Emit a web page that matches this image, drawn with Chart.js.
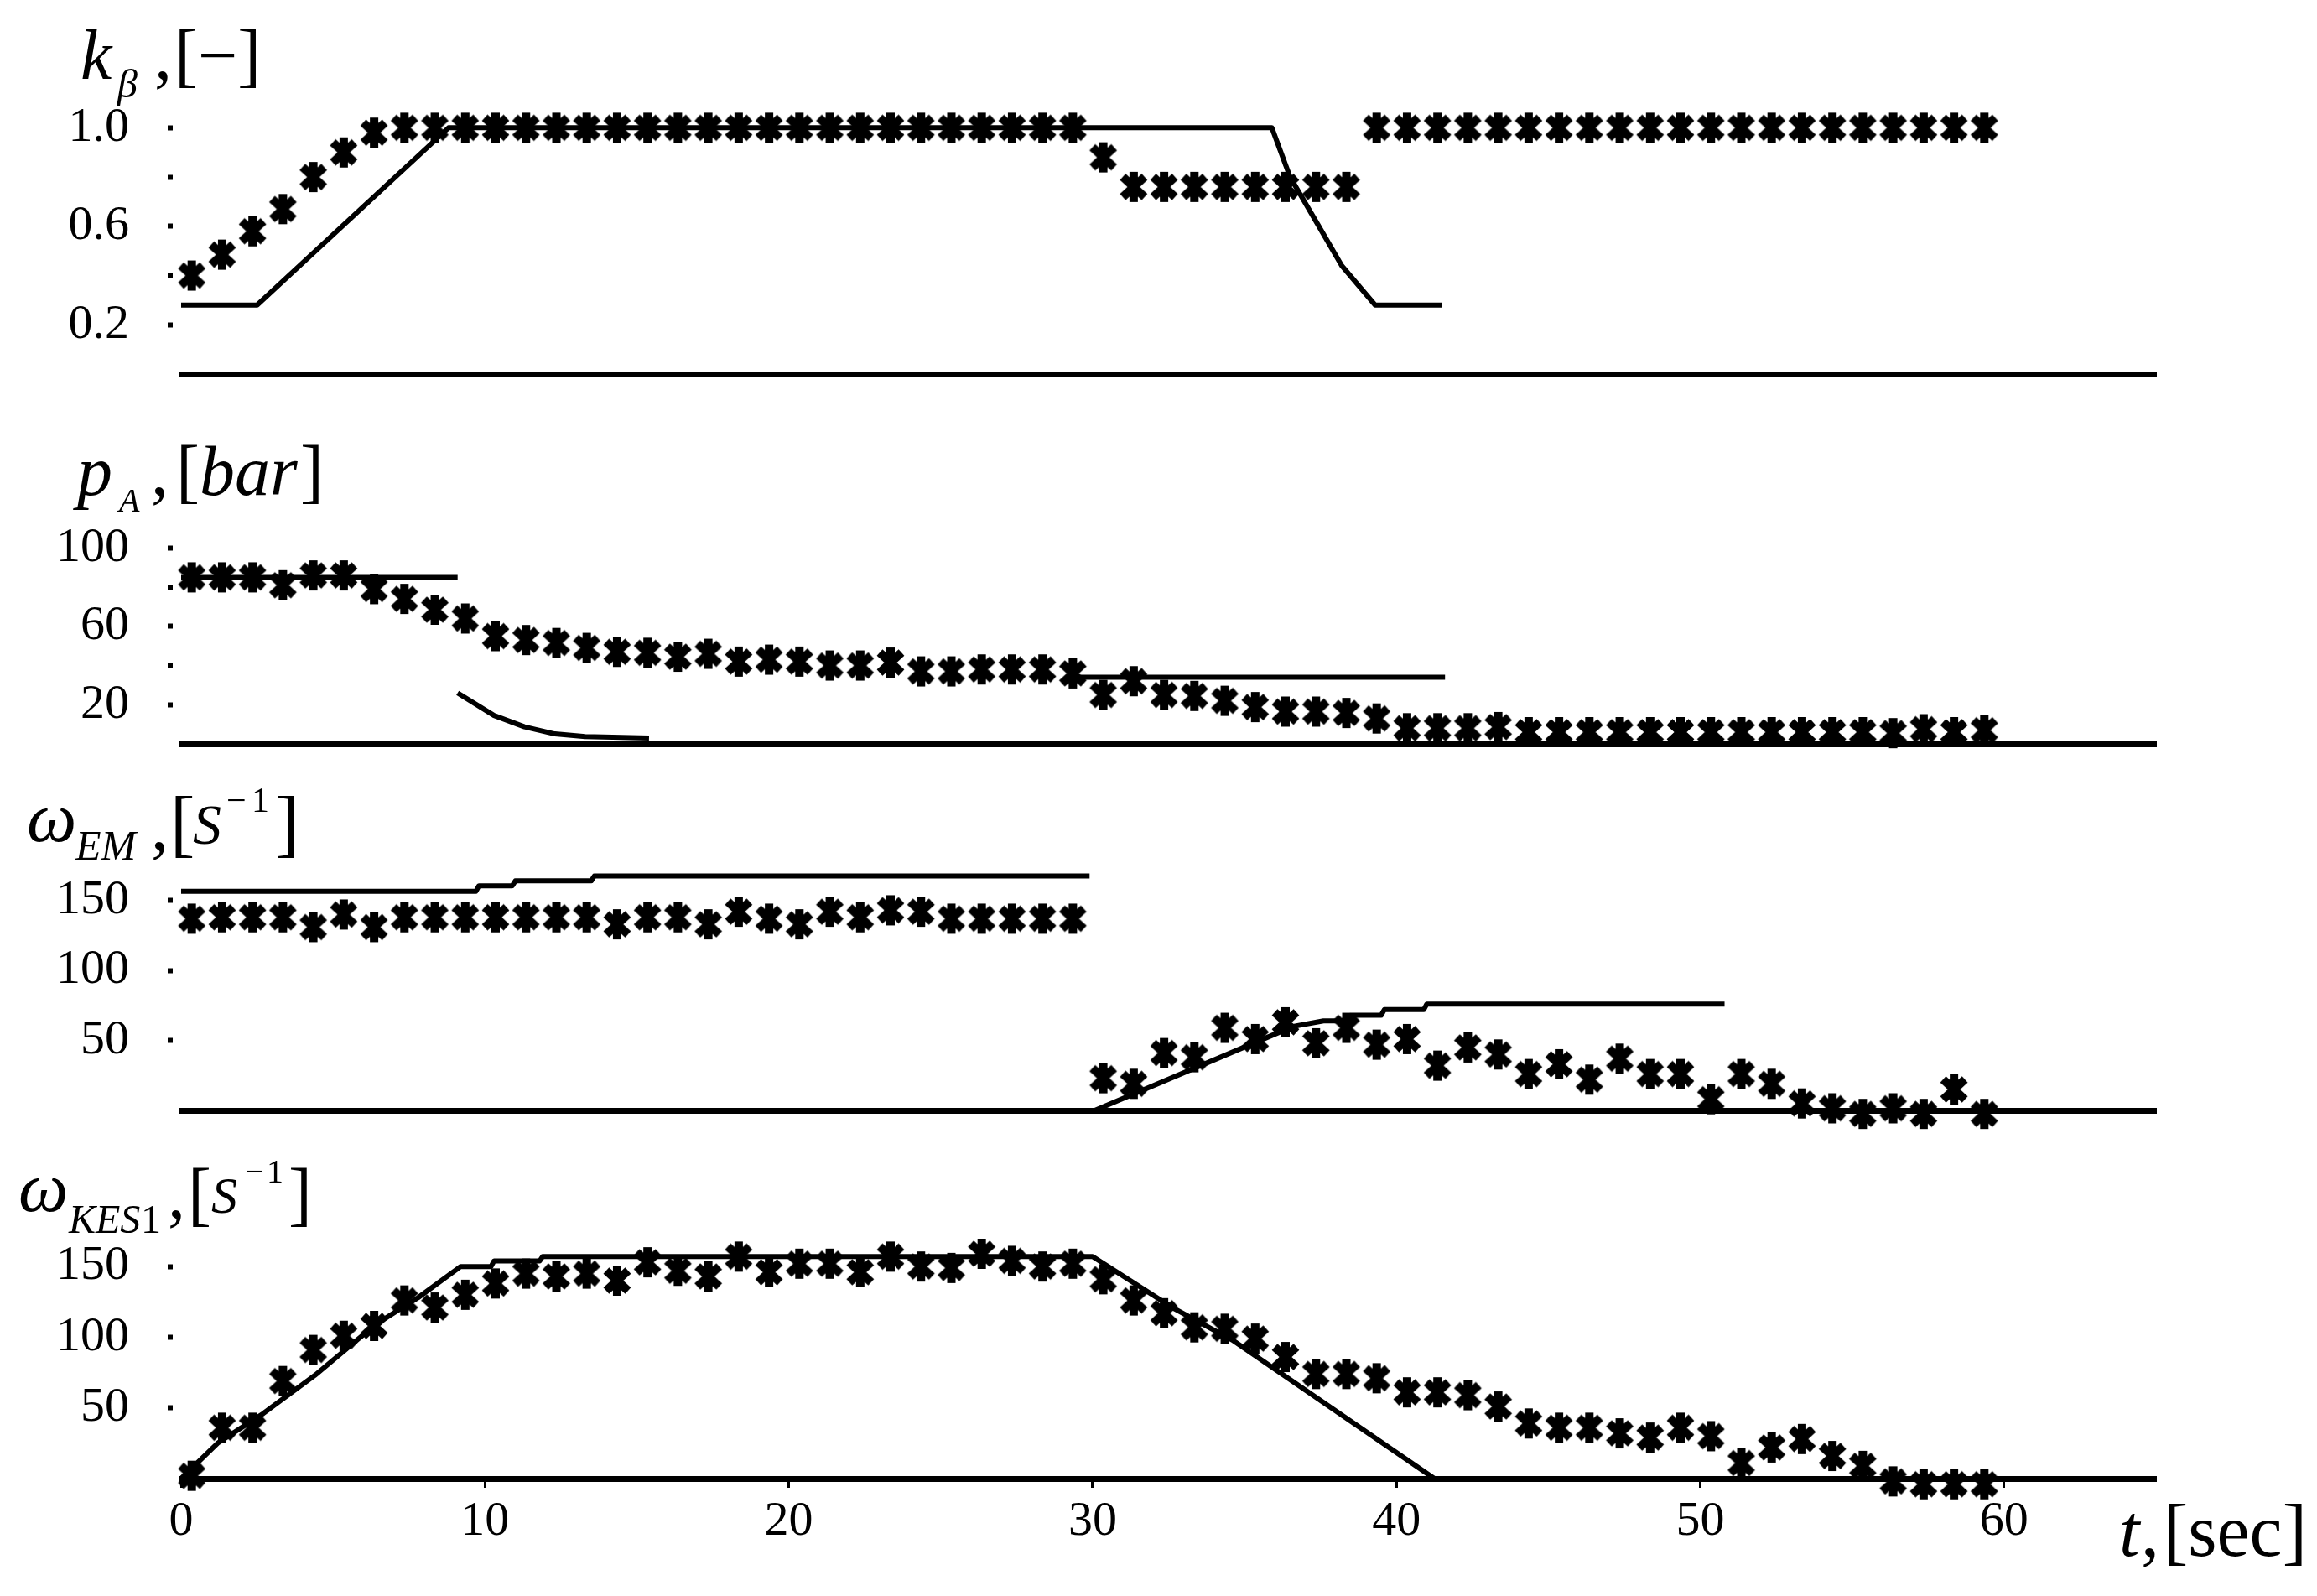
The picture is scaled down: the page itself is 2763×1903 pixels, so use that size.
<!DOCTYPE html>
<html><head><meta charset="utf-8">
<script src="https://cdn.jsdelivr.net/npm/chart.js@4.4.1/dist/chart.umd.min.js"></script>
<style>
html,body{margin:0;padding:0;background:#fff;}
#wrap{position:relative;width:2763px;height:1903px;background:#fff;overflow:hidden;}
canvas{position:absolute;left:0;}
</style></head><body>
<div id="wrap">
<canvas id="c1" width="2763" height="480" style="top:0px;width:2763px;height:480px"></canvas>
<canvas id="c2" width="2763" height="441" style="top:480px;width:2763px;height:441px"></canvas>
<canvas id="c3" width="2763" height="437" style="top:921px;width:2763px;height:437px"></canvas>
<canvas id="c4" width="2763" height="545" style="top:1358px;width:2763px;height:545px"></canvas>
</div>
<script>
// ---------------- DATA ----------------
// time axis ticks (sec)
const tTicks = [0, 10, 20, 30, 40, 50, 60];
const tTickLabels = ['0', '10', '20', '30', '40', '50', '60'];

// sampling times of the asterisk (measured) series
const markerTimes = [0.35,1.35,2.35,3.35,4.35,5.35,6.35,7.35,8.35,9.35,
  10.35,11.35,12.35,13.35,14.35,15.35,16.35,17.35,18.35,19.35,
  20.35,21.35,22.35,23.35,24.35,25.35,26.35,27.35,28.35,29.35,
  30.35,31.35,32.35,33.35,34.35,35.35,36.35,37.35,38.35,39.35,
  40.35,41.35,42.35,43.35,44.35,45.35,46.35,47.35,48.35,49.35,
  50.35,51.35,52.35,53.35,54.35,55.35,56.35,57.35,58.35,59.35];

// panel 1: k_beta [-]
const kbetaTicks = [0.2, 0.4, 0.6, 0.8, 1.0];
const kbetaTickLabels = ['0.2', '', '0.6', '', '1.0'];
const kbetaMarks = [0.40,0.485,0.58,0.67,0.80,0.90,0.98,
  1,1,1,1,1,1,1,1,1,1,1,1,1,1,1,1,1,1,1,1,1,1,1,
  0.88,
  0.76,0.76,0.76,0.76,0.76,0.76,0.76,0.76,
  1,1,1,1,1,1,1,1,1,1,1,1,1,1,1,1,1,1,1,1,1];
const kbetaLineT = [0, 2.5, 8.8, 35.9, 36.5, 37.4, 38.2, 39.3, 41.5];
const kbetaLineV = [0.28, 0.28, 1.0, 1.0, 0.80, 0.61, 0.44, 0.28, 0.28];

// panel 2: p_A [bar]
const pressTicks = [20, 40, 60, 80, 100];
const pressTickLabels = ['20', '', '60', '', '100'];
const pressMarks = [85,85,85,81,86,86,79,74,68.5,64,
  55,53,51.5,49,47,46.5,44.5,46,42,43,
  42,40,40,41.5,37,37,38,38,38,36,
  25,32,25,24.5,22,18.8,16.5,16.5,15.8,13,
  8,8,8,8.6,6,6,6,6,6,6,
  6,6,6,6,6,6,5.5,7.5,6,7];
const pressLine1T = [0, 9.1];
const pressLine1V = [85, 85];
const pressLine2T = [9.1, 10.3, 11.3, 12.3, 13.3, 15.4];
const pressLine2V = [26, 14.5, 8.7, 5.1, 3.7, 3];
const pressLine3T = [29.5, 41.6];
const pressLine3V = [34, 34];

// panel 3: omega_EM [s^-1]
const wTicks = [50, 100, 150];
const wTickLabels = ['50', '100', '150'];
const wEmMarks = [137,138,138,138,131,140,131,138,138,138,
  138,138,138,138,133,138,138,133,142,137,
  133,142,138,143,142,137,137,137,137,137,
  23,19,41,38,59,51,63,48,59,47,
  51,32,45,40,26,33,22,37,26,26,
  8,26,19,5,1.5,-2.5,1.5,-2.5,15,-2.5];
const wEmLine1T = [0, 9.7, 9.8, 10.9, 11.0, 13.5, 13.6, 29.9];
const wEmLine1V = [156.5, 156.5, 160.5, 160.5, 164, 164, 167.5, 167.5];
const wEmLine2T = [30.07, 36.6, 37.6, 38.4, 38.5, 39.5, 39.6, 40.9, 41.0, 50.8];
const wEmLine2V = [0, 60, 64, 64, 68, 68, 72, 72, 76, 76];

// panel 4: omega_KES1 [s^-1]
const wKesMarks = [2,36,36,69,91,101,108,126,121,130,
  138,145,143,145,140,153,147,143,157,146,
  152,152,146,157,150,149,159,154,150,152,
  141,126,117,107,106,99,86,74,74,71,
  61,61,59,51,39,36,36,32,29,36,
  30,11,22,28,16,9,-2,-4,-4,-4];
const wKesLineT = [0, 1.2, 2.7, 4.4, 6.4, 7.8, 9.2, 10.2, 10.3, 11.8, 11.9, 30, 32.7, 34.6, 41.25];
const wKesLineV = [0, 25, 46, 73, 109, 128, 150, 150, 154, 154, 157, 157, 120, 98, 0];

// axis label texts
const label1 = ['k', 'β', ',', '[−]'];
const label2 = ['p', 'A', ',', '[', 'bar', ']'];
const label3 = ['ω', 'EM', ',', '[', 'S', '−', '1', ']'];
const label4 = ['ω', 'KES', '1', ',', '[', 'S', '−', '1', ']'];
const labelT = ['t', ',', '[sec]'];

// ---------------- RENDER ----------------
const FAM = '"Liberation Serif", "Times New Roman", "DejaVu Serif", serif';

// bold six-armed asterisk used as the point style
const asterisk = (function () {
  const c = document.createElement('canvas');
  c.width = 36; c.height = 38;
  const g = c.getContext('2d');
  g.strokeStyle = '#000';
  g.lineWidth = 10;
  g.lineCap = 'butt';
  g.beginPath();
  g.moveTo(18, 1); g.lineTo(18, 37);
  g.moveTo(5, 7); g.lineTo(31, 31);
  g.moveTo(31, 7); g.lineTo(5, 31);
  g.stroke();
  return c;
})();

function pts(ts, vs) { return ts.map((t, i) => ({x: t, y: vs[i]})); }

function markerSet(vals) {
  return {data: pts(markerTimes, vals), showLine: false, pointStyle: asterisk,
    pointRadius: 18, pointHoverRadius: 18, pointBorderWidth: 0,
    borderColor: '#000', backgroundColor: '#000', clip: false};
}
function lineSet(ts, vs) {
  return {data: pts(ts, vs), showLine: true, borderColor: '#000', borderWidth: 6,
    pointRadius: 0, pointHoverRadius: 0, tension: 0, fill: false, clip: false,
    borderJoinStyle: 'round'};
}

function textPlugin(runs) {
  return {
    id: 'axisText',
    afterDraw(chart) {
      const ctx = chart.ctx;
      runs.forEach(r => {
        ctx.save();
        ctx.font = r[1] + ' ' + FAM;
        ctx.fillStyle = '#000';
        ctx.textAlign = 'left';
        ctx.textBaseline = 'alphabetic';
        ctx.fillText(r[0], r[2], r[3]);
        ctx.restore();
      });
    }
  };
}

function makePanel(id, cfg) {
  return new Chart(document.getElementById(id), {
    type: 'scatter',
    data: {datasets: cfg.datasets},
    options: {
      responsive: false, animation: false, devicePixelRatio: 1,
      events: [],
      layout: {padding: {left: 0, right: 192, top: cfg.padTop, bottom: 0}},
      plugins: {legend: {display: false}, tooltip: {enabled: false}},
      scales: {
        x: {
          type: 'linear', min: 0, max: 65, position: 'bottom',
          afterFit(s) { s.height = cfg.xH; s.paddingLeft = 0; s.paddingRight = 0; },
          afterBuildTicks(s) { s.ticks = tTicks.map(v => ({value: v})); },
          border: {display: true, width: 7, color: '#000'},
          grid: {display: cfg.showX, drawOnChartArea: false, drawTicks: true,
                 tickLength: 11, tickWidth: 3, tickColor: '#000'},
          ticks: {display: cfg.showX, color: '#000', padding: 6, maxRotation: 0, autoSkip: false,
                  font: {family: FAM, size: 58},
                  callback: (v, i) => tTickLabels[i]}
        },
        y: {
          type: 'linear', min: 0, max: cfg.ymax,
          afterFit(s) { s.width = 216; s.paddingTop = 0; s.paddingBottom = 0; },
          afterBuildTicks(s) { s.ticks = cfg.yTicks.map(v => ({value: v})); },
          border: {display: false},
          grid: {display: true, drawOnChartArea: false, drawTicks: true, tickLength: 16,
                 tickWidth: 6, tickColor: '#000', tickBorderDash: [6, 100]},
          ticks: {color: '#000', padding: 46, autoSkip: false,
                  font: {family: FAM, size: 58},
                  callback: (v, i) => cfg.yLabels[i]}
        }
      }
    },
    plugins: [textPlugin(cfg.text)]
  });
}

makePanel('c1', {
  padTop: 123, xH: 34, ymax: 1.1, yTicks: kbetaTicks, yLabels: kbetaTickLabels, showX: false,
  datasets: [markerSet(kbetaMarks), lineSet(kbetaLineT, kbetaLineV)],
  text: [[label1[0], 'italic 84px', 96, 94], [label1[1], 'italic 48px', 140, 116],
         [label1[2], '84px', 184, 94], [label1[3], '84px', 208, 94]]
});

makePanel('c2', {
  padTop: 150, xH: 34, ymax: 110, yTicks: pressTicks, yLabels: pressTickLabels, showX: false,
  datasets: [markerSet(pressMarks), lineSet(pressLine1T, pressLine1V),
             lineSet(pressLine2T, pressLine2V), lineSet(pressLine3T, pressLine3V)],
  text: [[label2[0], 'italic 84px', 92, 110], [label2[1], 'italic 40px', 142, 130],
         [label2[2], '84px', 180, 110], [label2[3], '84px', 210, 110],
         [label2[4], 'italic 84px', 238, 110], [label2[5], '84px', 358, 110]]
});

makePanel('c3', {
  padTop: 111, xH: 34, ymax: 175, yTicks: wTicks, yLabels: wTickLabels, showX: false,
  datasets: [markerSet(wEmMarks), lineSet(wEmLine1T, wEmLine1V), lineSet(wEmLine2T, wEmLine2V)],
  text: [[label3[0], 'italic 84px', 32, 82], [label3[1], 'italic 50px', 90, 104],
         [label3[2], '84px', 180, 92], [label3[3], '88px', 203, 90],
         [label3[4], 'italic 68px', 230, 85], [label3[5], '42px', 270, 47],
         [label3[6], '42px', 300, 47], [label3[7], '88px', 328, 90]]
});

makePanel('c4', {
  padTop: 110, xH: 140, ymax: 175, yTicks: wTicks, yLabels: wTickLabels, showX: true,
  datasets: [markerSet(wKesMarks), lineSet(wKesLineT, wKesLineV)],
  text: [[label4[0], 'italic 84px', 22, 86], [label4[1], 'italic 48px', 82, 112],
         [label4[2], '48px', 168, 112], [label4[3], '84px', 200, 94],
         [label4[4], '84px', 224, 94], [label4[5], 'italic 62px', 252, 88],
         [label4[6], '40px', 292, 52], [label4[7], '40px', 318, 52],
         [label4[8], '84px', 344, 94],
         [labelT[0], 'italic 88px', 2527, 497], [labelT[1], '88px', 2553, 497],
         [labelT[2], '88px', 2580, 497]]
});
</script>
</body></html>
